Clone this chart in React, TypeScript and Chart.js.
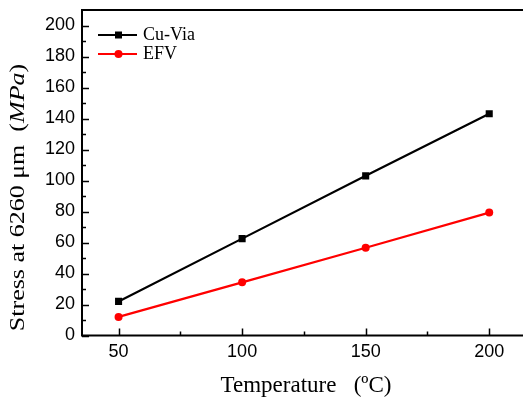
import React, { useEffect, useRef } from 'react';
import { Chart, registerables } from 'chart.js';

Chart.register(...registerables);

// ---- data ----
const temperatures = [50, 100, 150, 200];
const cuViaStress = [22, 62.5, 103, 143.1];
const efvStress = [12, 34.3, 56.6, 79.3];
const seriesNames = ['Cu-Via', 'EFV'];
const seriesColors = ['#000000', '#ff0000'];
const seriesMarkers = ['rect', 'circle'];
const xTickValues = [50, 100, 150, 200];
const xMinorTickValues = [75, 125, 175];
const yTickValues = [0, 20, 40, 60, 80, 100, 120, 140, 160, 180, 200];
const yMinorTickValues = [10, 30, 50, 70, 90, 110, 130, 150, 170, 190];
const xTitle = 'Temperature   (ºC)';
const yTitleParts = [
  { text: 'Stress at 6260 μm  (', italic: false },
  { text: 'MPa', italic: true },
  { text: ')', italic: false },
];

const SERIF = "'Liberation Serif', 'Times New Roman', serif";
const SANS = "'Liberation Sans', Arial, sans-serif";

function drawMarker(ctx: CanvasRenderingContext2D, style: string, x: number, y: number, color: string) {
  ctx.fillStyle = color;
  if (style === 'rect') {
    ctx.fillRect(x - 3.5, y - 3.5, 7, 7);
  } else {
    ctx.beginPath();
    ctx.arc(x, y, 4, 0, Math.PI * 2);
    ctx.fill();
  }
}

const zeroPadding = (s: any) => {
  s.paddingTop = 0;
  s.paddingBottom = 0;
  s.paddingLeft = 0;
  s.paddingRight = 0;
};

const frameAndTicks = {
  id: 'frameAndTicks',
  beforeDatasetsDraw(chart: any) {
    const { ctx, chartArea: a, scales } = chart;
    ctx.save();
    ctx.strokeStyle = '#000';
    ctx.lineWidth = 2;
    ctx.strokeRect(a.left, a.top, a.right - a.left, a.bottom - a.top);
    ctx.lineWidth = 1.5;
    ctx.beginPath();
    const xs = scales.x;
    const ys = scales.y;
    const xt = (vals: number[], len: number) => vals.forEach((v) => {
      const px = Math.round(xs.getPixelForValue(v)) + 0.5;
      ctx.moveTo(px, a.bottom);
      ctx.lineTo(px, a.bottom - len);
    });
    const yt = (vals: number[], len: number) => vals.forEach((v) => {
      const py = Math.round(ys.getPixelForValue(v)) + 0.5;
      ctx.moveTo(a.left, py);
      ctx.lineTo(a.left + len, py);
    });
    xt(xTickValues, 7);
    xt(xMinorTickValues, 4);
    yt(yTickValues, 7);
    yt(yMinorTickValues, 4);
    ctx.stroke();
    ctx.restore();
  },
  afterDraw(chart: any) {
    const { ctx, chartArea: a } = chart;
    // legend
    ctx.save();
    chart.data.datasets.forEach((ds: any, i: number) => {
      const rowY = a.top + 25 + i * 19;
      ctx.strokeStyle = ds.borderColor;
      ctx.lineWidth = 2.2;
      ctx.beginPath();
      ctx.moveTo(a.left + 16, rowY);
      ctx.lineTo(a.left + 55, rowY);
      ctx.stroke();
      drawMarker(ctx, ds.pointStyle, a.left + 36.5, rowY, ds.borderColor);
      ctx.fillStyle = '#000';
      ctx.font = `18px ${SERIF}`;
      ctx.textAlign = 'left';
      ctx.textBaseline = 'middle';
      ctx.fillText(ds.label, a.left + 61, rowY);
    });
    ctx.restore();
    // y axis title with italic unit
    ctx.save();
    ctx.translate(19, chart.height / 2 - 3);
    ctx.rotate(-Math.PI / 2);
    ctx.scale(1.3, 1);
    ctx.fillStyle = '#000';
    ctx.textBaseline = 'middle';
    ctx.textAlign = 'left';
    const fontFor = (p: any) => `${p.italic ? 'italic ' : ''}20px ${SERIF}`;
    let total = 0;
    yTitleParts.forEach((p) => {
      ctx.font = fontFor(p);
      total += ctx.measureText(p.text).width;
    });
    let cx = -total / 2;
    yTitleParts.forEach((p) => {
      ctx.font = fontFor(p);
      ctx.fillText(p.text, cx, 0);
      cx += ctx.measureText(p.text).width;
    });
    ctx.restore();
  },
};

export default function App() {
  const ref = useRef<HTMLCanvasElement>(null);
  useEffect(() => {
    if (!ref.current) return;
    const seriesValues = [cuViaStress, efvStress];
    const chart = new Chart(ref.current, {
      type: 'line',
      data: {
        datasets: seriesNames.map((name, i) => ({
          label: name,
          data: temperatures.map((t, j) => ({ x: t, y: seriesValues[i][j] })),
          borderColor: seriesColors[i],
          backgroundColor: seriesColors[i],
          borderWidth: 2.2,
          pointStyle: seriesMarkers[i] as any,
          pointRadius: seriesMarkers[i] === 'rect' ? 5 : 4,
          pointBorderWidth: 0,
          tension: 0,
          fill: false,
        })),
      },
      options: {
        responsive: false,
        animation: false,
        layout: { autoPadding: false, padding: { top: 10, right: 0, left: 0, bottom: 0 } },
        plugins: { legend: { display: false }, tooltip: { enabled: false } },
        scales: {
          x: {
            type: 'linear',
            min: 35.2,
            max: 216.5,
            afterBuildTicks: (s: any) => { s.ticks = xTickValues.map((v) => ({ value: v })); },
            afterFit: (s: any) => { s.height = 65.5; zeroPadding(s); },
            grid: { display: false, drawTicks: false },
            border: { display: false },
            ticks: { font: { family: SANS, size: 18 }, color: '#000', padding: 6, maxRotation: 0 },
            title: {
              display: true,
              text: xTitle,
              font: { family: SERIF, size: 23 },
              color: '#000',
              padding: { top: 0, bottom: 1 },
            },
          },
          y: {
            type: 'linear',
            min: 0,
            max: 210,
            afterBuildTicks: (s: any) => { s.ticks = yTickValues.map((v) => ({ value: v })); },
            afterFit: (s: any) => { s.width = 82; zeroPadding(s); },
            grid: { display: false, drawTicks: false },
            border: { display: false },
            ticks: { font: { family: SANS, size: 18 }, color: '#000', padding: 7 },
          },
        },
      },
      plugins: [frameAndTicks],
    });
    return () => chart.destroy();
  }, []);
  return (
    <div style={{ position: 'fixed', left: 0, top: 0, width: 523, height: 401, overflow: 'hidden', background: '#fff' }}>
      <canvas ref={ref} width={530} height={401} style={{ display: 'block', width: 530, height: 401, maxWidth: 'none' }} />
    </div>
  );
}
